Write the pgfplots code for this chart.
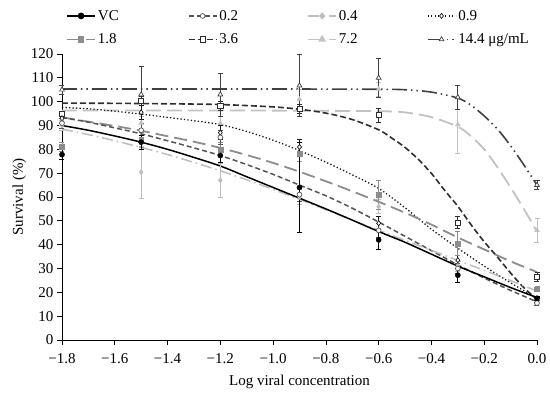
\documentclass[border=0pt]{standalone}
\usepackage{fontspec}
\setmainfont{Liberation Serif}
\usepackage{pgfplots}
\pgfplotsset{compat=1.18}
\definecolor{cVC}{gray}{0}
\definecolor{c02}{gray}{0.33}
\definecolor{c04}{gray}{0.74}
\definecolor{c09}{gray}{0.1}
\definecolor{c18}{gray}{0.55}
\definecolor{c36}{gray}{0.18}
\definecolor{c72}{gray}{0.76}
\definecolor{c144}{gray}{0.25}
\pgfplotsset{
 sVC/.style={color=cVC, solid, line width=1.5pt},
 s02/.style={color=c02, dash pattern=on 5pt off 3pt, line width=1.5pt},
 s04/.style={color=c04, dash pattern=on 11pt off 4pt on 1.5pt off 4pt, line width=1.5pt},
 s09/.style={color=c09, dash pattern=on 1.3pt off 2.2pt, line width=1.3pt},
 s18/.style={color=c18, dash pattern=on 13pt off 6pt, line width=1.8pt},
 s36/.style={color=c36, dash pattern=on 6pt off 3pt, line width=1.6pt},
 s72/.style={color=c72, dash pattern=on 15pt off 6pt, line width=1.8pt},
 s144/.style={color=c144, dash pattern=on 15pt off 4pt on 1.5pt off 4pt on 1.5pt off 4pt, line width=1.6pt},
 mk/.style={only marks, mark size=2.6pt, error bars/y dir=both, error bars/y explicit,
   error bars/error bar style={line width=0.7pt, solid},
   error bars/error mark options={rotate=90, mark size=2.5pt, line width=0.7pt}},
}
\begin{document}
\begin{tikzpicture}[font=\fontsize{15}{17}\selectfont]
\begin{axis}[
  scale only axis, width=475pt, height=286pt,
  xmin=-1.8, xmax=0, ymin=0, ymax=120,
  axis x line*=bottom, axis y line*=left, axis line style={-, line width=0.8pt},
  xtick={-1.8,-1.6,-1.4,-1.2,-1.0,-0.8,-0.6,-0.4,-0.2,0},
  xticklabels={−1.8,−1.6,−1.4,−1.2,−1.0,−0.8,−0.6,−0.4,−0.2,0.0},
  ytick={0,10,...,120},
  /pgf/number format/assume math mode=true,
  tick align=outside, major tick length=5pt, tick style={line width=0.7pt, black},
  xticklabel style={yshift=-5pt},
  xlabel={Log viral concentration}, ylabel={Survival (\%)},
  xlabel style={yshift=-5pt}, ylabel style={yshift=-2pt},
  clip=false,
  legend columns=4,
  legend cell align=left,
  legend style={draw=none, fill=none, at={(0,1)}, anchor=north west, xshift=4pt, yshift=46pt,
    /tikz/every even column/.append style={column sep=67pt}, row sep=8pt, inner sep=0pt},
  legend image code/.code={\draw[mark repeat=2,mark phase=2,#1] plot coordinates {(0pt,0pt)(14pt,0pt)(28pt,0pt)};},
]
\addlegendimage{sVC, mark=*, mark size=2.6pt, mark options={solid}}\addlegendentry{VC}
\addlegendimage{s02, mark=*, mark size=2.4pt, mark options={solid, fill=white, line width=0.7pt}}\addlegendentry{0.2}
\addlegendimage{s04, mark=diamond*, mark size=2.6pt, mark options={solid}}\addlegendentry{0.4}
\addlegendimage{s09, mark=diamond*, mark size=2.6pt, mark options={solid, fill=white, line width=0.7pt}}\addlegendentry{0.9}
\addlegendimage{s18, mark=square*, mark size=2.4pt, mark options={solid}}\addlegendentry{1.8}
\addlegendimage{s36, mark=square*, mark size=2.6pt, mark options={solid, fill=white, line width=0.7pt}}\addlegendentry{3.6}
\addlegendimage{s72, mark=triangle*, mark size=2.8pt, mark options={solid}}\addlegendentry{7.2}
\addlegendimage{s144, mark=triangle*, mark size=2.8pt, mark options={solid, fill=white, line width=0.7pt}}\addlegendentry{14.4 μg/mL}

% fitted curves
\addplot[s72, smooth, forget plot] coordinates {(-1.8,96.3)(-1.5,96.3)(-1.2,96.3)(-0.9,96.2)(-0.6,96)(-0.5,95.5)(-0.4,93.5)(-0.3,89.5)(-0.25,85.5)(-0.2,80)(-0.15,72.5)(-0.1,64)(-0.05,55)(0,45.5)};
\addplot[s144, smooth, forget plot] coordinates {(-1.8,105.3)(-1.5,105.3)(-1.2,105.3)(-0.9,105.3)(-0.6,105.2)(-0.5,105)(-0.4,104)(-0.3,101.5)(-0.25,98.5)(-0.2,94)(-0.15,88.5)(-0.1,81.5)(-0.05,73.5)(0,65)};
\addplot[s36, smooth, forget plot] coordinates {(-1.8,99.4)(-1.6,99.3)(-1.4,99.1)(-1.2,98.8)(-1.0,97.8)(-0.9,96.8)(-0.8,95.2)(-0.7,92.5)(-0.6,88.2)(-0.55,84.7)(-0.5,80.8)(-0.45,75.8)(-0.4,69.9)(-0.35,62.8)(-0.3,56.1)(-0.25,48.4)(-0.2,41.2)(-0.15,34.8)(-0.1,28.1)(-0.05,22)(0,17)};
\addplot[s09, smooth, forget plot] coordinates {(-1.8,97.6)(-1.7,97)(-1.6,96)(-1.5,94.8)(-1.4,93.4)(-1.3,92)(-1.2,90.4)(-1.1,87.5)(-1.0,83.8)(-0.9,79.5)(-0.8,74.6)(-0.7,69.3)(-0.6,63.6)(-0.5,55.5)(-0.4,46.5)(-0.3,38.5)(-0.2,31)(-0.1,24)(0,17.5)};
\addplot[s18, smooth, forget plot] coordinates {(-1.8,93.4)(-1.7,91.6)(-1.6,89.8)(-1.5,87.8)(-1.4,85.5)(-1.3,83.2)(-1.2,80.6)(-1.1,77.6)(-1.0,74.3)(-0.9,70.6)(-0.8,66.6)(-0.7,62.4)(-0.6,58)(-0.5,53.4)(-0.4,48.4)(-0.3,43)(-0.2,38)(-0.1,33)(0,28.5)};
\addplot[s02, smooth, forget plot] coordinates {(-1.8,93.4)(-1.7,91.4)(-1.6,89)(-1.5,86.5)(-1.4,83.6)(-1.3,80.6)(-1.2,77.4)(-1.1,73.6)(-1.0,69.5)(-0.9,65)(-0.8,60.5)(-0.7,55.3)(-0.6,49.5)(-0.5,43.5)(-0.4,37.5)(-0.3,31.5)(-0.2,26)(-0.1,20.8)(0,16)};
\addplot[s04, smooth, forget plot] coordinates {(-1.8,88.5)(-1.7,86.2)(-1.6,83.6)(-1.5,80.8)(-1.4,77.8)(-1.3,74.5)(-1.2,71)(-1.1,67.2)(-1.0,63.2)(-0.9,59)(-0.8,54.7)(-0.7,50.3)(-0.6,46)(-0.5,41.8)(-0.4,37.6)(-0.3,33.4)(-0.2,29.2)(-0.1,24.9)(0,20.5)};
\addplot[sVC, smooth, forget plot] coordinates {(-1.8,90)(-1.7,88)(-1.6,85.6)(-1.5,83)(-1.4,80)(-1.3,76.6)(-1.2,73)(-1.1,68.5)(-1.0,64)(-0.9,59.5)(-0.8,55)(-0.7,50.3)(-0.6,45.5)(-0.5,41)(-0.4,36)(-0.3,31)(-0.2,26.5)(-0.1,22)(0,17.8)};

% data points with error bars
\addplot[mk, color=c72, mark=triangle*, mark size=2.8pt, forget plot] table[x=x,y=y,y error=e]{
x y e
-1.8 92 2
-1.5 91 3
-1.2 91 3
-0.9 101 4
-0.6 105.3 3
-0.3 90.4 12
0 46 5
};
\addplot[mk, color=c144, mark=triangle*, mark size=2.8pt, mark options={fill=white, line width=0.7pt}, forget plot] table[x=x,y=y,y error=e]{
x y e
-1.8 105 2
-1.5 103 12
-1.2 103 9
-0.9 106.7 13
-0.6 110 8
-0.3 101.8 5
0 65 2
};
\addplot[mk, color=c36, mark=square*, mark size=2.6pt, mark options={fill=white, line width=0.7pt}, forget plot] table[x=x,y=y,y error=e]{
x y e
-1.8 95 1
-1.5 100.4 2
-1.2 98.3 2
-0.9 97 2
-0.6 94.4 3
-0.3 49.2 2.5
0 26.5 2
};
\addplot[mk, color=c04, mark=diamond*, mark size=2.6pt, forget plot] table[x=x,y=y,y error=e]{
x y e
-1.8 90 2
-1.5 70.4 11
-1.2 67 7
-0.9 60 3
-0.6 56 3
-0.3 31 2
0 16.5 1
};
\addplot[mk, color=c09, mark=diamond*, mark size=2.6pt, mark options={fill=white, line width=0.7pt}, forget plot] table[x=x,y=y,y error=e]{
x y e
-1.8 93 2
-1.5 95.5 3
-1.2 87 3
-0.9 81 3
-0.6 49 3
-0.3 33.5 2
0 17 1
};
\addplot[mk, color=c18, mark=square*, mark size=2.4pt, forget plot] table[x=x,y=y,y error=e]{
x y e
-1.8 81 2
-1.5 84 3
-1.2 80 3
-0.9 78 3
-0.6 61 6
-0.3 40.5 5
0 21.3 1
};
\addplot[mk, color=c02, mark=*, mark size=2.4pt, mark options={fill=white, line width=0.7pt}, forget plot] table[x=x,y=y,y error=e]{
x y e
-1.8 91 2
-1.5 88 3
-1.2 85 3
-0.9 61 3
-0.6 46 3
-0.3 30 2
0 15.5 1
};
\addplot[mk, color=black, mark=*, mark size=2.6pt, forget plot] table[x=x,y=y,y error=e]{
x y e
-1.8 77.8 2
-1.5 83 3
-1.2 77.4 3
-0.9 64 19
-0.6 42 4
-0.3 27.2 3
0 17.5 1
};
\end{axis}
\pgfresetboundingbox
\path[use as bounding box] (current axis.south west) ++(-62pt,-56pt) rectangle ++(550pt,396pt);
\end{tikzpicture}
\end{document}
